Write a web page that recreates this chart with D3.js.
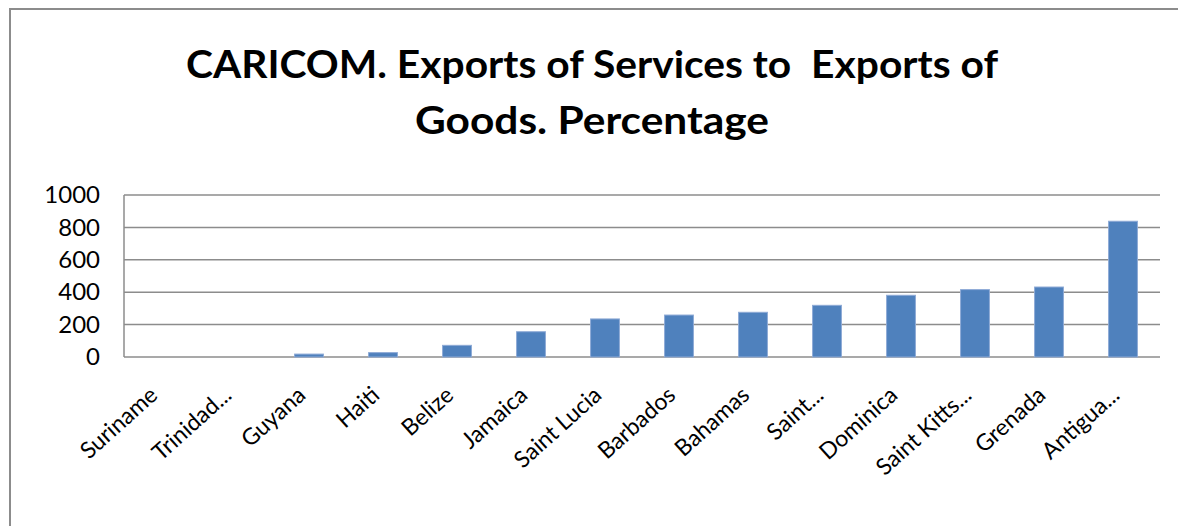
<!DOCTYPE html>
<html>
<head>
<meta charset="utf-8">
<script src="https://cdn.jsdelivr.net/npm/d3@7"></script>
<style>
  html, body { margin: 0; background: #fff; overflow: hidden; }
  svg { display: block; }
  text { font-family: Lato, "Open Sans", sans-serif; }
</style>
</head>
<body>
<svg id="chart" width="1178" height="526"></svg>
<script>
'use strict'

// values
var countries = ["Suriname", "Trinidad...", "Guyana", "Haiti", "Belize", "Jamaica",
  "Saint Lucia", "Barbados", "Bahamas", "Saint...", "Dominica", "Saint Kitts...",
  "Grenada", "Antigua..."]
var ratios = [0, 0, 18, 27, 72, 156, 235, 259, 276, 319, 381, 416, 432, 838]
var yTicks = [0, 200, 400, 600, 800, 1000]
var titleLines = ["CARICOM. Exports of Services to  Exports of", "Goods. Percentage"]

var svg = d3.select("#chart"),
    margin = {top: 195, right: 18, bottom: 169, left: 124},
    width = svg.attr("width") - margin.left - margin.right,
    height = svg.attr("height") - margin.top - margin.bottom;

// outer chart frame (only top and left edges are visible)
svg.append("path")
  .attr("d", "M10,530 V9 H1185")
  .attr("fill", "none")
  .attr("stroke", "#8c8c8c")
  .attr("stroke-width", 2)

// title
var titleWidths = [812, 354]
svg.selectAll(".title")
  .data(titleLines)
  .enter()
  .append("text")
    .attr("class", "title")
    .attr("x", 592)
    .attr("y", (d, i) => 78 + i * 56)
    .attr("text-anchor", "middle")
    .attr("font-size", 38)
    .attr("font-weight", "bold")
    .attr("fill", "#000")
    .style("white-space", "pre")
    .attr("textLength", (d, i) => titleWidths[i])
    .attr("lengthAdjust", "spacingAndGlyphs")
    .text(d => d)

var g = svg.append("g")
    .attr("transform", "translate(" + margin.left + "," + margin.top + ")");

var x = d3.scaleBand().domain(countries).range([0, width]).paddingInner(0.61).paddingOuter(0.305)
var y = d3.scaleLinear().domain([0, 1000]).range([height, 0])

// gridlines
g.selectAll(".grid")
  .data(yTicks)
  .enter()
  .append("line")
    .attr("x1", 0)
    .attr("x2", width)
    .attr("y1", d => y(d))
    .attr("y2", d => y(d))
    .attr("stroke", "#8c8c8c")
    .attr("stroke-width", 1.5)

// left axis line
g.append("line")
  .attr("x1", 0).attr("x2", 0)
  .attr("y1", 0).attr("y2", height)
  .attr("stroke", "#8c8c8c")
  .attr("stroke-width", 1.5)

// y labels
var yAxis = g.append("g")
  .call(d3.axisLeft(y).tickValues(yTicks).tickSize(0).tickPadding(24).tickFormat(d3.format("d")))
yAxis.select(".domain").remove()
yAxis.selectAll("text")
  .attr("font-size", 24)
  .attr("fill", "#000")
  .style("font-family", "Lato, 'Open Sans', sans-serif")

// bars
g.selectAll(".bar")
  .data(ratios)
  .enter()
  .append("rect")
    .attr("class", "bar")
    .attr("x", (d, i) => x(countries[i]))
    .attr("y", d => y(d))
    .attr("width", x.bandwidth())
    .attr("height", d => height - y(d))
    .attr("fill", "#4f81bd")
    .attr("stroke", "#8eaad6")
    .attr("stroke-width", 1)

// x labels, rotated
g.selectAll(".xlab")
  .data(countries)
  .enter()
  .append("text")
    .attr("class", "xlab")
    .attr("transform", d => "translate(" + (x(d) + x.bandwidth() / 2 - 2) + "," + (height + 40) + ") rotate(-42)")
    .attr("text-anchor", "end")
    .attr("font-size", 23)
    .attr("fill", "#000")
    .text(d => d)
</script>
</body>
</html>
